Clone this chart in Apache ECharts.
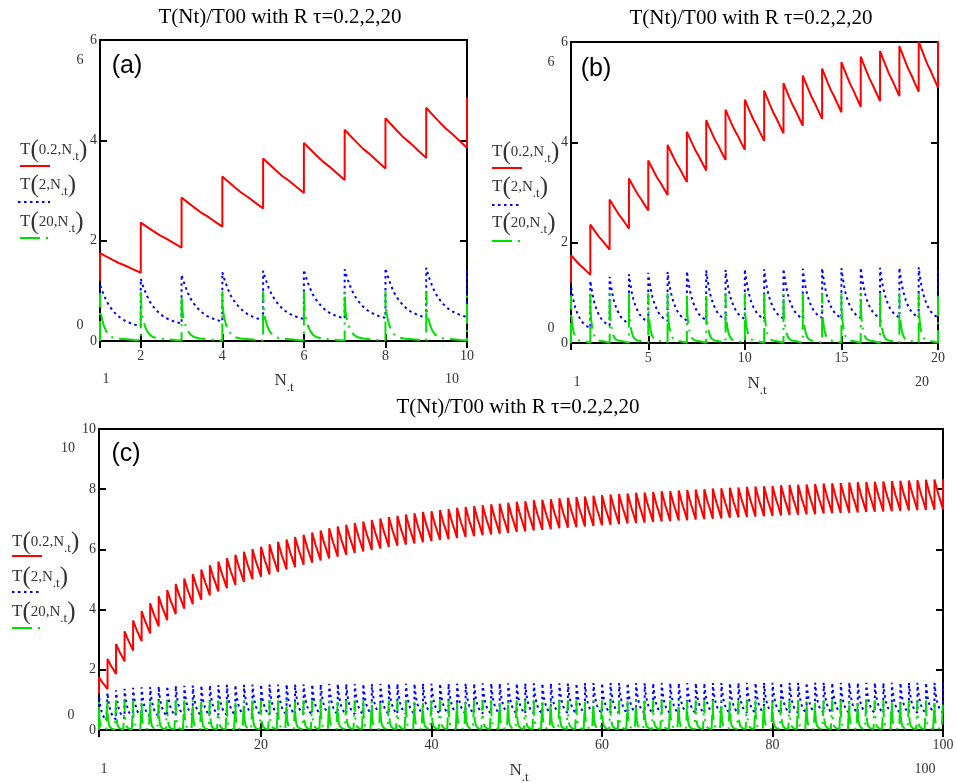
<!DOCTYPE html>
<html><head><meta charset="utf-8">
<script src="https://cdn.jsdelivr.net/npm/echarts@6/dist/echarts.min.js"></script>
<style>html,body{margin:0;padding:0;background:#fff}#c{width:957px;height:783px}</style>
</head><body><div id="c"></div>
<script>
// ---- data ----
// value at each pulse N = 1..100 (top of the jump)
const redPeak = [
1.75,2.36,2.86,3.28,3.64,3.95,4.21,4.44,4.65,4.85,
5.03,5.18,5.33,5.47,5.60,5.71,5.82,5.92,6.01,6.09,
6.17,6.25,6.33,6.41,6.49,6.56,6.63,6.70,6.76,6.82,
6.88,6.93,6.98,7.03,7.08,7.12,7.16,7.20,7.24,7.27,
7.31,7.34,7.38,7.41,7.44,7.47,7.50,7.52,7.55,7.58,
7.60,7.63,7.65,7.67,7.70,7.72,7.74,7.76,7.78,7.80,
7.82,7.84,7.86,7.88,7.89,7.91,7.93,7.94,7.96,7.97,
7.99,8.00,8.02,8.03,8.05,8.06,8.08,8.09,8.10,8.11,
8.13,8.14,8.15,8.16,8.17,8.19,8.20,8.21,8.22,8.23,
8.24,8.25,8.26,8.27,8.28,8.29,8.30,8.31,8.32,8.33];
// value at the end of cycle N (just before pulse N+1), N = 1..99
const redTrough = [
1.36,1.86,2.28,2.64,2.95,3.21,3.44,3.65,3.85,4.03,
4.18,4.33,4.47,4.60,4.71,4.82,4.92,5.01,5.09,5.17,
5.25,5.33,5.41,5.49,5.56,5.63,5.70,5.76,5.82,5.88,
5.93,5.98,6.03,6.08,6.12,6.16,6.20,6.24,6.27,6.31,
6.34,6.38,6.41,6.44,6.47,6.50,6.52,6.55,6.58,6.60,
6.63,6.65,6.67,6.70,6.72,6.74,6.76,6.78,6.80,6.82,
6.84,6.86,6.88,6.89,6.91,6.93,6.94,6.96,6.97,6.99,
7.00,7.02,7.03,7.05,7.06,7.08,7.09,7.10,7.11,7.13,
7.14,7.15,7.16,7.17,7.19,7.20,7.21,7.22,7.23,7.24,
7.25,7.26,7.27,7.28,7.29,7.30,7.31,7.32,7.33];
const bluePeak = [
1.13,1.24,1.32,1.37,1.40,1.42,1.43,1.45,1.46,1.47,
1.47,1.48,1.48,1.49,1.49,1.50,1.50,1.50,1.51,1.51,
1.51,1.51,1.52,1.52,1.52,1.52,1.52,1.53,1.53,1.53,
1.53,1.53,1.53,1.53,1.54,1.54,1.54,1.54,1.54,1.54,
1.54,1.54,1.54,1.55,1.55,1.55,1.55,1.55,1.55,1.55,
1.55,1.55,1.55,1.55,1.55,1.55,1.55,1.56,1.56,1.56,
1.56,1.56,1.56,1.56,1.56,1.56,1.56,1.56,1.56,1.56,
1.56,1.56,1.56,1.56,1.56,1.57,1.57,1.57,1.57,1.57,
1.57,1.57,1.57,1.57,1.57,1.57,1.57,1.57,1.57,1.57,
1.57,1.57,1.57,1.57,1.57,1.57,1.57,1.57,1.57,1.57];
const blueTrough = [
0.30,0.35,0.39,0.42,0.44,0.45,0.46,0.47,0.48,0.48,
0.49,0.49,0.50,0.50,0.50,0.50,0.51,0.51,0.51,0.51,
0.52,0.52,0.52,0.52,0.52,0.53,0.53,0.53,0.53,0.53,
0.53,0.53,0.54,0.54,0.54,0.54,0.54,0.54,0.54,0.54,
0.55,0.55,0.55,0.55,0.55,0.55,0.55,0.55,0.55,0.55,
0.55,0.55,0.56,0.56,0.56,0.56,0.56,0.56,0.56,0.56,
0.56,0.56,0.56,0.56,0.56,0.56,0.56,0.56,0.56,0.56,
0.57,0.57,0.57,0.57,0.57,0.57,0.57,0.57,0.57,0.57,
0.57,0.57,0.57,0.57,0.57,0.57,0.57,0.57,0.57,0.57,
0.57,0.57,0.57,0.57,0.57,0.57,0.57,0.57,0.57];
const greenPeak = [
0.95,0.98,0.99,0.99,0.99,0.99,0.99,0.99,0.99,0.99,
0.99,0.99,0.99,0.99,0.99,0.99,0.99,0.99,0.99,0.99,
0.99,0.99,0.99,0.99,0.99,0.99,0.99,0.99,0.99,0.99,
0.99,0.99,0.99,0.99,0.99,0.99,0.99,0.99,0.99,0.99,
0.99,0.99,0.99,0.99,0.99,0.99,0.99,0.99,0.99,0.99,
0.99,0.99,0.99,0.99,0.99,0.99,0.99,0.99,0.99,0.99,
0.99,0.99,0.99,0.99,0.99,0.99,0.99,0.99,0.99,0.99,
0.99,0.99,0.99,0.99,0.99,0.99,0.99,0.99,0.99,0.99,
0.99,0.99,0.99,0.99,0.99,0.99,0.99,0.99,0.99,0.99,
0.99,0.99,0.99,0.99,0.99,0.99,0.99,0.99,0.99,0.99];
const greenTrough = [
0.01,0.01,0.01,0.01,0.01,0.01,0.01,0.01,0.01,0.01,
0.01,0.01,0.01,0.01,0.01,0.01,0.01,0.01,0.01,0.01,
0.02,0.02,0.02,0.02,0.02,0.02,0.02,0.02,0.02,0.02,
0.02,0.02,0.02,0.02,0.02,0.02,0.02,0.02,0.02,0.02,
0.02,0.02,0.02,0.02,0.02,0.02,0.02,0.02,0.02,0.02,
0.02,0.02,0.02,0.02,0.02,0.02,0.02,0.02,0.02,0.02,
0.02,0.02,0.02,0.02,0.02,0.02,0.02,0.02,0.02,0.02,
0.02,0.02,0.02,0.02,0.02,0.02,0.02,0.02,0.02,0.02,
0.02,0.02,0.02,0.02,0.02,0.02,0.02,0.02,0.02,0.02,
0.02,0.02,0.02,0.02,0.02,0.02,0.02,0.02,0.02];
// decay shape inside one cycle (phase 0..1 -> fraction of the drop remaining)
const redPhase   = [0, 0.125, 0.29, 0.46, 0.625, 0.79, 1];
const redShape   = [1, 0.86, 0.68, 0.50, 0.36, 0.20, 0];
const bluePhase  = [0, 0.04, 0.08, 0.14, 0.22, 0.32, 0.42, 0.52, 0.62, 0.74, 0.86, 1];
const blueShape  = [1, 0.88, 0.78, 0.64, 0.49, 0.36, 0.26, 0.18, 0.12, 0.07, 0.03, 0];
const greenPhase = [0, 0.02, 0.05, 0.10, 0.15, 0.22, 0.30, 0.45, 0.65, 0.85, 1];
const greenShape = [1, 0.60, 0.45, 0.30, 0.20, 0.12, 0.07, 0.04, 0.025, 0.01, 0];
const seriesStart = [1.2, 0.8, 0.0];   // value just before the first pulse
const legendArgs = ['0.2', '2', '20'];
const titleText = 'T(Nt)/T00 with R \u03c4=0.2,2,20';
const xMaxes = [10, 20, 100];
const yMaxes = [6, 6, 10];

// ---- layout / styles ----
const grids = [
  {left: 100, top: 40, width: 367, height: 301},
  {left: 571, top: 42, width: 367, height: 301},
  {left: 99,  top: 429, width: 844, height: 301}
];
const splitNums = [5, 4, 5];
const SERIF = '"Liberation Serif", "Times New Roman", serif';
const colors = ['#ff0000', '#0000ff', '#00e000'];
const dashes = ['solid', [2.5, 3.5], [20, 6, 2, 6]];

function build(peaks, troughs, phase, shape, start, xMax) {
  const pts = [[1, start], [1, peaks[0]]];
  for (let n = 1; n < xMax; n++) {
    const p = peaks[n - 1], t = troughs[n - 1];
    for (let k = 1; k < phase.length; k++) pts.push([n + phase[k], t + (p - t) * shape[k]]);
    pts.push([n + 1, peaks[n]]);
  }
  return pts;
}

const xAxis = [], yAxis = [], series = [], graphic = [];
const tickStyle = {show: true, inside: true, length: 7, lineStyle: {color: '#000', width: 2}};
grids.forEach((g, i) => {
  const xm = xMaxes[i], ym = yMaxes[i];
  xAxis.push({type: 'value', gridIndex: i, min: 1, max: xm, splitNumber: splitNums[i], position: 'bottom',
    axisLine: {show: false}, splitLine: {show: false}, axisTick: tickStyle,
    axisLabel: {color: '#333', fontFamily: SERIF, fontSize: 14, margin: 8,
      formatter: v => (v === 1 ? '' : String(v))}});
  xAxis.push({type: 'value', gridIndex: i, min: 1, max: xm, splitNumber: splitNums[i], position: 'top',
    axisLine: {show: false}, splitLine: {show: false}, axisTick: tickStyle, axisLabel: {show: false}});
  yAxis.push({type: 'value', gridIndex: i, min: 0, max: ym, interval: 2, position: 'left',
    axisLine: {show: false}, splitLine: {show: false}, axisTick: tickStyle,
    axisLabel: {color: '#333', fontFamily: SERIF, fontSize: 14, margin: 3}});
  yAxis.push({type: 'value', gridIndex: i, min: 0, max: ym, interval: 2, position: 'right',
    axisLine: {show: false}, splitLine: {show: false}, axisTick: tickStyle, axisLabel: {show: false}});
  const sets = [
    [redPeak, redTrough, redPhase, redShape],
    [bluePeak, blueTrough, bluePhase, blueShape],
    [greenPeak, greenTrough, greenPhase, greenShape]
  ];
  sets.forEach((s, k) => {
    series.push({type: 'line', xAxisIndex: 2 * i, yAxisIndex: 2 * i, showSymbol: false, symbol: 'none',
      silent: true, animation: false, z: 3 + k,
      lineStyle: {color: colors[k], width: 2, type: dashes[k]},
      data: build(s[0], s[1], s[2], s[3], seriesStart[k], xm)});
  });
});

function txt(x, y, text, opts) {
  graphic.push({type: 'text', silent: true, z: 50, style: Object.assign({
    x: x, y: y, text: text, fill: '#333', font: '14px ' + SERIF,
    align: 'center', verticalAlign: 'middle', textAlign: 'center', textVerticalAlign: 'middle'}, opts || {})});
}
const rich = {
  t: {fontSize: 17, fontFamily: SERIF, fill: '#333', lineHeight: 26, verticalAlign: 'middle'},
  p: {fontSize: 25, fontFamily: SERIF, fill: '#333', lineHeight: 26, verticalAlign: 'middle'},
  a: {fontSize: 15, fontFamily: SERIF, fill: '#333', lineHeight: 26, verticalAlign: 'middle'},
  s: {fontSize: 13, fontFamily: SERIF, fill: '#333', lineHeight: 15, verticalAlign: 'bottom'}
};
function legendItem(x, y, k, lineY, lx0, lx1) {
  txt(x, y, '{t|T}{p|(}{a|' + legendArgs[k] + ',N}{s|.t}{p|)}',
    {align: 'left', textAlign: 'left', rich: rich});
  graphic.push({type: 'line', silent: true, z: 50,
    shape: {x1: lx0, y1: lineY, x2: lx1, y2: lineY},
    style: {stroke: colors[k], lineWidth: 2, lineDash: k === 0 ? null : dashes[k]}});
}
function axisName(x, y) {
  txt(x, y, '{t|N}{s|.t}', {rich: rich});
}
const TITLE_FONT = '21px ' + SERIF;
const PANEL_FONT = '25px "Liberation Sans", Arial, sans-serif';
// panel (a)
txt(280, 17, titleText, {fill: '#000', font: TITLE_FONT});
txt(127, 66, '(a)', {fill: '#000', font: PANEL_FONT});
txt(80, 60, '6'); txt(80, 325, '0'); txt(106, 379, '1'); txt(452, 379, '10'); axisName(284, 381);
legendItem(20, 150, 0, 166, 20, 50);
legendItem(20, 185, 1, 202, 18, 50);
legendItem(20, 222, 2, 238, 20, 50);
// panel (b)
txt(751, 18, titleText, {fill: '#000', font: TITLE_FONT});
txt(596, 69, '(b)', {fill: '#000', font: PANEL_FONT});
txt(551, 62, '6'); txt(551, 328, '0'); txt(577, 382, '1'); txt(922, 382, '20'); axisName(757, 384);
legendItem(492, 152, 0, 168, 492, 522);
legendItem(492, 187, 1, 205, 492, 522);
legendItem(492, 223, 2, 241, 492, 522);
// panel (c)
txt(518, 407, titleText, {fill: '#000', font: TITLE_FONT});
txt(126, 454, '(c)', {fill: '#000', font: PANEL_FONT});
txt(68, 448, '10'); txt(71, 715, '0'); txt(104, 769, '1'); txt(925, 769, '100'); axisName(519, 771);
legendItem(12, 542, 0, 556, 12, 42);
legendItem(12, 577, 1, 592, 12, 42);
legendItem(12, 612, 2, 628, 12, 42);

const chart = echarts.init(document.getElementById('c'), null, {renderer: 'canvas'});
chart.setOption({
  animation: false,
  backgroundColor: '#fff',
  grid: grids.map(g => Object.assign({show: true, borderColor: '#000', borderWidth: 2,
    backgroundColor: 'transparent', containLabel: false}, g)),
  xAxis: xAxis, yAxis: yAxis, series: series, graphic: graphic
});
</script></body></html>
